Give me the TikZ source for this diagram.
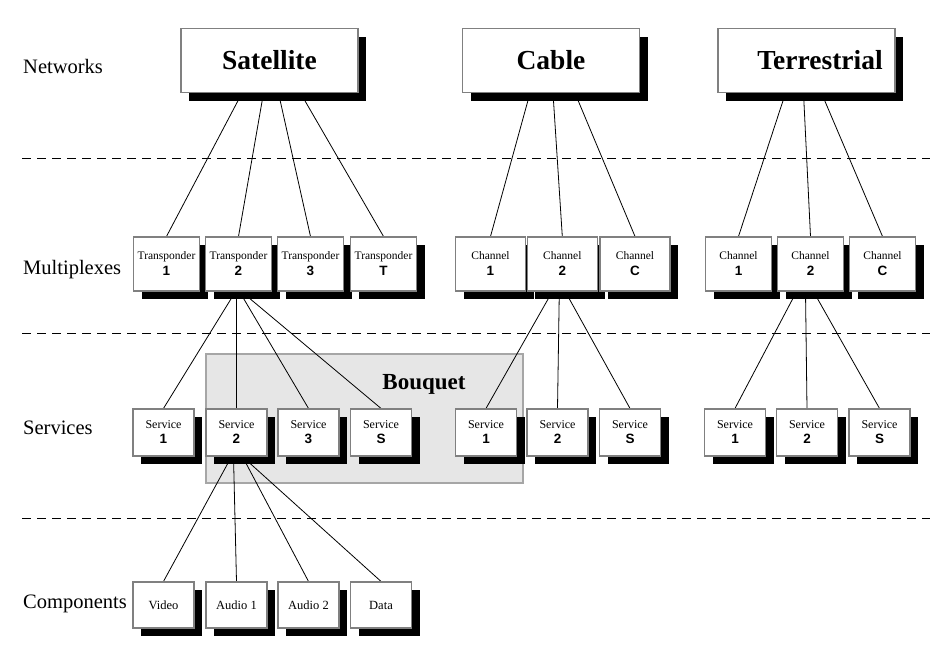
\documentclass[tikz,border=0pt]{standalone}
\usepackage{fontspec}
\setmainfont{Liberation Serif}
\setsansfont{Liberation Sans}
\usetikzlibrary{shadows}
\usetikzlibrary{backgrounds}
\newcommand{\boxnum}[1]{{\sffamily\bfseries\fontsize{13.5}{15}\selectfont #1}}
\definecolor{bqfill}{HTML}{E6E6E6}
\definecolor{bqline}{HTML}{A6A6A6}

\begin{document}
\begin{tikzpicture}[x=1pt,y=-1pt,
  box/.style={draw=gray, line width=1.2pt, fill=white, align=center, inner sep=0pt,
    drop shadow={shadow xshift=8pt, shadow yshift=-8pt, fill=black, opacity=1}},
  bigbox/.style={box, minimum width=177pt, minimum height=64pt,
    font=\fontsize{27.5}{30}\selectfont\bfseries},
  muxbox/.style={box, minimum width=66pt, minimum height=54pt,
    font=\fontsize{11.5}{16}\selectfont},
  smallbox/.style={box, minimum width=61pt, minimum height=47pt,
    font=\fontsize{12}{15}\selectfont},
  level/.style={anchor=base west, inner sep=0pt, font=\fontsize{20.5}{24}\selectfont},
  link/.style={line width=0.8pt},
  sep/.style={dash pattern=on 9pt off 6pt, line width=0.8pt}]
  \useasboundingbox (0,0) rectangle (943,649);

  % level names
  \node[level] (lnet) at (23,73.3) {Networks};
  \node[level] (lmux) at (23,274) {Multiplexes};
  \node[level] (lsrv) at (23,434) {Services};
  \node[level] (lcmp) at (23,608) {Components};

  % separators
  \foreach \y in {158,333,518}
    \draw[sep] (22,\y) -- (930,\y);

  % networks
  \node[bigbox] (sat) at (269.5,60.5) {Satellite};
  \node[bigbox] (cab) at (551,60.5) {Cable};
  \node[bigbox] (ter) at (806.5,60.5) {\hspace*{27pt}Terrestrial};

  % multiplexes
  \foreach \x/\n in {166.5/1,238.5/2,310.5/3,383.5/T}
    \node[muxbox] (tp\n) at (\x,264) {Transponder\\\boxnum{\n}};
  \foreach \x/\n in {490.5/1,562.3/2,635/C}
    \node[muxbox, minimum width=70pt] (cc\n) at (\x,264) {Channel\\\boxnum{\n}};
  \foreach \x/\n in {738.5/1,810.5/2,882.5/C}
    \node[muxbox] (tc\n) at (\x,264) {Channel\\\boxnum{\n}};

  % services
  \foreach \x/\n in {163.5/1,236.5/2,308.5/3,381/S}
    \node[smallbox] (sv\n) at (\x,432.5) {Service\\\boxnum{\n}};
  \foreach \x/\n in {486/1,557.5/2,630/S}
    \node[smallbox] (cs\n) at (\x,432.5) {Service\\\boxnum{\n}};
  \foreach \x/\n in {735/1,807/2,879.5/S}
    \node[smallbox] (ts\n) at (\x,432.5) {Service\\\boxnum{\n}};

  % components
  \foreach \x/\n/\t in {163.5/vid/Video,236.5/au1/Audio 1,308.5/au2/Audio 2,381/dat/Data}
    \node[smallbox, minimum height=46pt, font=\fontsize{12.5}{15}\selectfont] (\n) at (\x,605) {\t};

  \begin{scope}[on background layer]
    % bouquet
    \draw[bqline, fill=bqfill, line width=1.2pt] (206,354) rectangle (523,483);
    % lines across levels
    \foreach \dx/\m in {-27.5/1,-6/2,9/3,31/T}
      \draw[link] ([xshift=\dx pt]sat.south) -- (tp\m.north);
    \foreach \dx/\m in {-21/1,2/2,24/C}
      \draw[link] ([xshift=\dx pt]cab.south) -- (cc\m.north);
    \foreach \dx/\m in {-21/1,-3/2,15/C}
      \draw[link] ([xshift=\dx pt]ter.south) -- (tc\m.north);
    \foreach \dx/\m in {-3/1,-2/2,1/3,3/S}
      \draw[link] ([xshift=\dx pt]tp2.south) -- (sv\m.north);
    \foreach \dx/\m in {-10/1,-3/2,3/S}
      \draw[link] ([xshift=\dx pt]cc2.south) -- (cs\m.north);
    \foreach \dx/\m in {-14/1,-5/2,3/S}
      \draw[link] ([xshift=\dx pt]tc2.south) -- (ts\m.north);
    \foreach \dx/\m in {-5/vid,-3/au1,6/au2,6/dat}
      \draw[link] ([xshift=\dx pt]sv2.south) -- (\m.north);
  \end{scope}

  \node[anchor=base, font=\fontsize{23}{26}\selectfont\bfseries] (bq) at (424,389) {Bouquet};
\end{tikzpicture}
\end{document}
